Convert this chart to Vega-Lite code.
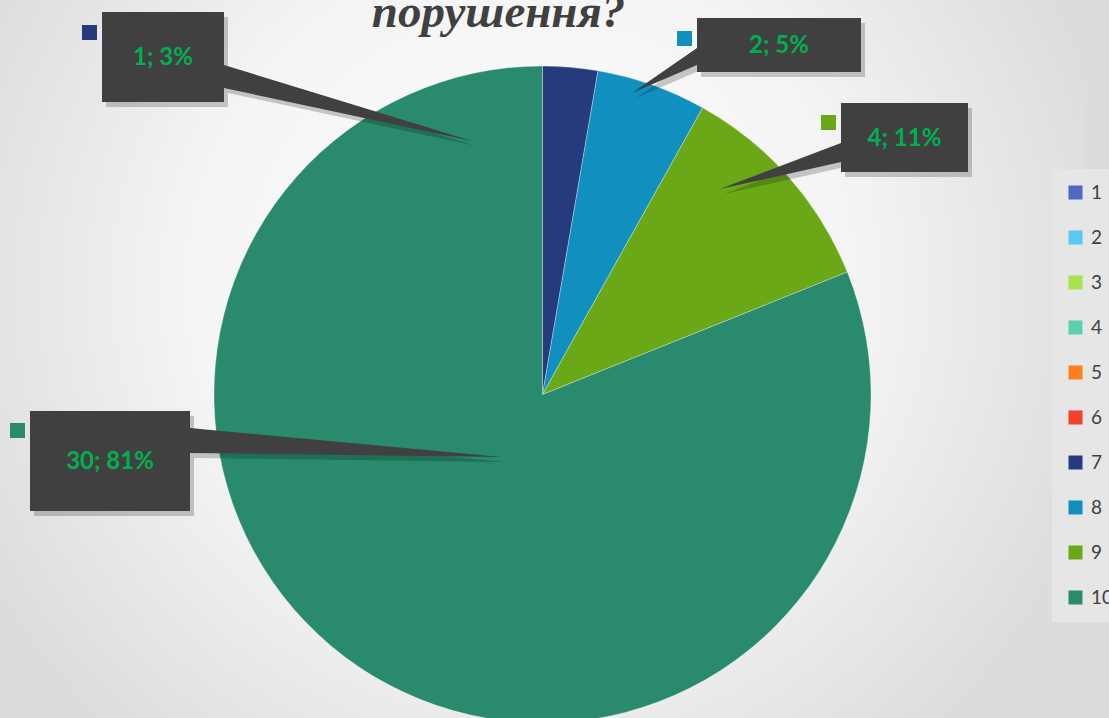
{
  "$schema": "https://vega.github.io/schema/vega-lite/v6.json",
  "width": 1085,
  "height": 789,
  "autosize": {"type": "none"},
  "padding": {"left": 0, "top": 0, "right": 24, "bottom": 0},
  "background": "#dcdcdc",
  "title": {
    "text": "порушення?",
    "font": "Liberation Serif",
    "fontSize": 47,
    "fontWeight": "bold",
    "fontStyle": "italic",
    "color": "#404040",
    "anchor": "middle",
    "frame": "group",
    "offset": -74,
    "baseline": "alphabetic",
    "dx": -44
  },
  "data": {
    "values": [
      {"category": 1, "value": 0, "label": "0; 0%"},
      {"category": 2, "value": 0, "label": "0; 0%"},
      {"category": 3, "value": 0, "label": "0; 0%"},
      {"category": 4, "value": 0, "label": "0; 0%"},
      {"category": 5, "value": 0, "label": "0; 0%"},
      {"category": 6, "value": 0, "label": "0; 0%"},
      {"category": 7, "value": 1, "label": "1; 3%"},
      {"category": 8, "value": 2, "label": "2; 5%"},
      {"category": 9, "value": 4, "label": "4; 11%"},
      {"category": 10, "value": 30, "label": "30; 81%"}
    ]
  },
  "layer": [
    {
      "data": {"values": [{}]},
      "mark": {
        "type": "rect",
        "fill": {
          "gradient": "radial",
          "x1": 0.48, "y1": 0.4, "x2": 0.48, "y2": 0.4, "r1": 0, "r2": 0.56,
          "stops": [
            {"offset": 0, "color": "#ffffff"},
            {"offset": 0.55, "color": "#f4f4f4"},
            {"offset": 1, "color": "#dcdcdc"}
          ]
        }
      },
      "encoding": {}
    },
    {
      "mark": {"type": "arc", "outerRadius": 328.5, "stroke": "#ffffff", "strokeWidth": 0.6, "strokeOpacity": 0.5},
      "encoding": {
        "theta": {"field": "value", "type": "quantitative"},
        "color": {
          "field": "category",
          "type": "ordinal",
          "scale": {
            "domain": [1, 2, 3, 4, 5, 6, 7, 8, 9, 10],
            "range": ["#4f67c6", "#5bc8f0", "#a6e44e", "#5fcfaf", "#ff7f1f", "#f0412a", "#263a7e", "#1190bf", "#6aa818", "#2a8a6e"]
          },
          "legend": {
            "orient": "none",
            "legendX": 1052,
            "legendY": 169,
            "padding": 14,
            "fillColor": "#e6e6e6",
            "strokeColor": null,
            "title": null,
            "symbolType": "square",
            "symbolSize": 196,
            "symbolStrokeWidth": 0,
            "labelFont": "Lato",
            "labelFontSize": 19,
            "labelColor": "#404040",
            "labelOffset": 6,
            "rowPadding": 25
          }
        }
      }
    },
    {
      "transform": [{"filter": "datum.value > 0"}],
      "mark": {"type": "point", "filled": true, "size": 4, "strokeWidth": 0, "color": "#000000", "opacity": 0.2},
      "encoding": {
        "shape": {
          "field": "category",
          "type": "nominal",
          "scale": {
            "domain": [7, 8, 9, 10],
            "range": [
              "M-436.5,-377.5H-314.5V-324.5L-66.5,-248.5L-314.5,-301.5V-287.5H-436.5Z",
              "M158.5,-371.5H322.5V-317.5H158.5V-324.5L93.5,-296.5L158.5,-341.5Z",
              "M302.5,-286.5H429.5V-217.5H302.5V-227.5L181.5,-200.5L302.5,-246.5Z",
              "M-508.5,21.5H-348.5V38.5L-36.5,67.5L-348.5,63.5V121.5H-508.5Z"
            ]
          },
          "legend": null
        }
      }
    },
    {
      "transform": [{"filter": "datum.value > 0"}],
      "mark": {"type": "point", "filled": true, "size": 4, "strokeWidth": 0, "color": "#404040", "opacity": 1},
      "encoding": {
        "shape": {
          "field": "category",
          "type": "nominal",
          "scale": {
            "domain": [7, 8, 9, 10],
            "range": [
              "M-440.5,-382.5H-318.5V-329.5L-70.5,-253.5L-318.5,-306.5V-292.5H-440.5Z",
              "M154.5,-376.5H318.5V-322.5H154.5V-329.5L89.5,-301.5L154.5,-346.5Z",
              "M298.5,-291.5H425.5V-222.5H298.5V-232.5L177.5,-205.5L298.5,-251.5Z",
              "M-512.5,16.5H-352.5V33.5L-40.5,62.5L-352.5,58.5V116.5H-512.5Z"
            ]
          },
          "legend": null
        }
      }
    },
    {
      "transform": [{"filter": "datum.value > 0"}],
      "mark": {"type": "point", "filled": true, "size": 4, "strokeWidth": 0, "opacity": 1},
      "encoding": {
        "color": {"field": "category", "type": "ordinal"},
        "shape": {
          "field": "category",
          "type": "nominal",
          "scale": {
            "domain": [7, 8, 9, 10],
            "range": [
              "M-460.5,-369.5H-445.5V-354.5H-460.5Z",
              "M134.5,-363.5H149.5V-348.5H134.5Z",
              "M278.5,-279.5H293.5V-264.5H278.5Z",
              "M-532.5,28.5H-517.5V43.5H-532.5Z"
            ]
          },
          "legend": null
        }
      }
    },
    {
      "transform": [{"filter": "datum.value > 0"}],
      "mark": {"type": "text", "font": "Lato", "fontWeight": "bold", "fontSize": 24, "color": "#00b050", "align": "center", "baseline": "middle"},
      "encoding": {
        "text": {"field": "label", "type": "nominal"},
        "theta": {
          "field": "category",
          "type": "quantitative",
          "scale": {"type": "linear", "zero": false, "domain": [7, 8, 9, 10], "range": [5.4377, 0.5962, 0.9561, 4.5576]}
        },
        "radius": {
          "field": "category",
          "type": "quantitative",
          "scale": {"type": "linear", "zero": false, "domain": [7, 8, 9, 10], "range": [507.2, 421.2, 443.1, 437.7]}
        }
      }
    }
  ],
  "resolve": {"scale": {"theta": "independent", "radius": "independent", "shape": "independent"}},
  "config": {"view": {"stroke": null}}
}
